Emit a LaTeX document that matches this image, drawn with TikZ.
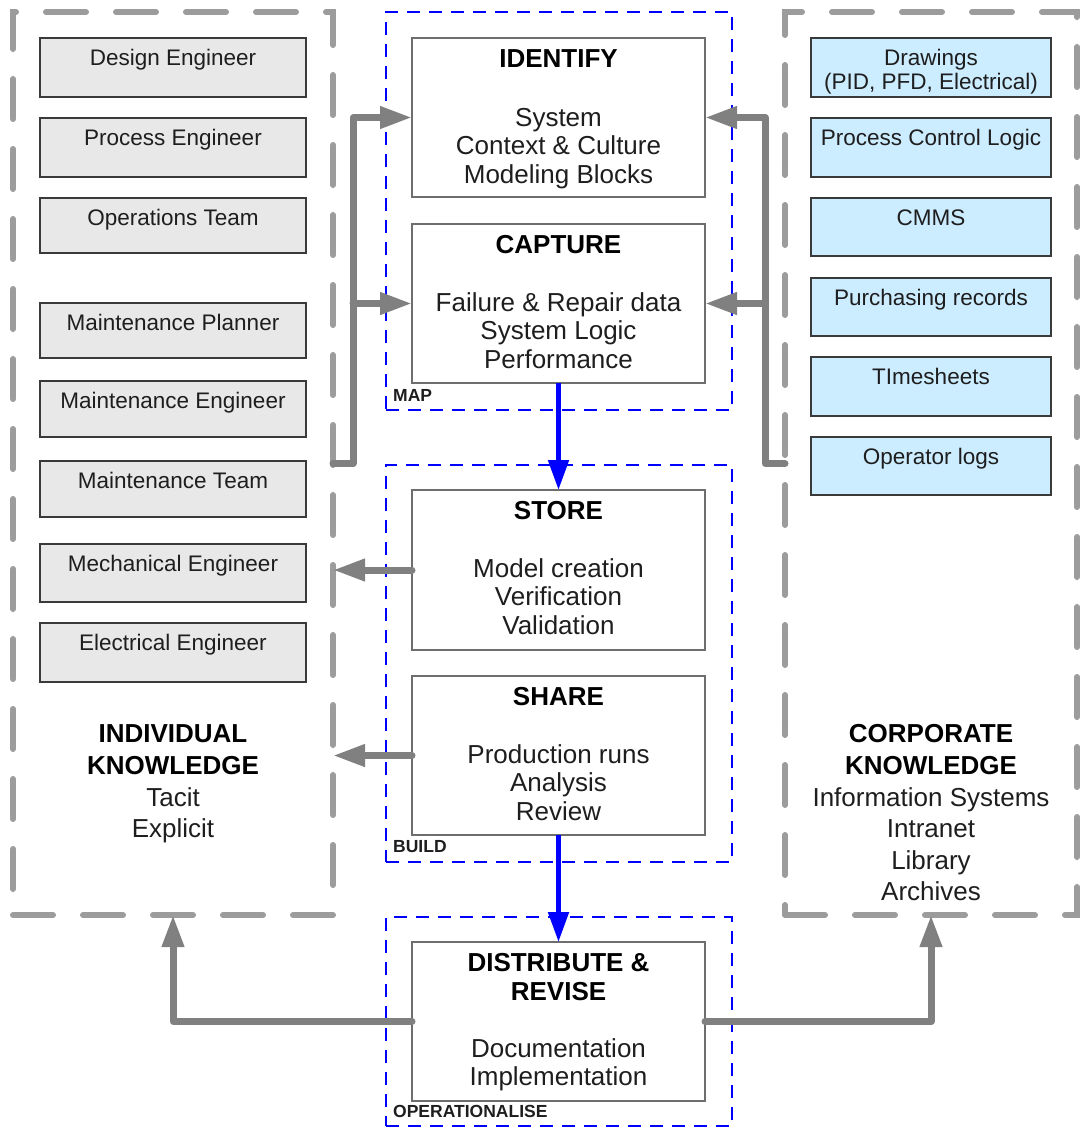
\documentclass[tikz,border=0pt]{standalone}
\usepackage{fontspec}
\setmainfont{Liberation Sans}
\usetikzlibrary{arrows.meta,calc}
\definecolor{panelgray}{HTML}{9C9C9C}
\definecolor{flowgray}{HTML}{808080}
\definecolor{peoplefill}{HTML}{E8E8E8}
\definecolor{docfill}{HTML}{CCECFF}
\definecolor{stageblue}{HTML}{0000FF}
\definecolor{boxline}{HTML}{3A3A3A}
\definecolor{stepline}{HTML}{6E6E6E}
\definecolor{ink}{HTML}{1E1E1E}
\begin{document}
\begin{tikzpicture}[x=1pt,y=-1pt,
  panel/.style={draw=panelgray, line width=6pt, line cap=round, dash pattern=on 40pt off 30pt,
    anchor=north west, inner sep=0pt, outer sep=0pt},
  stage/.style={draw=stageblue, line width=2pt, dash pattern=on 13pt off 9pt,
    anchor=north west, inner sep=0pt, outer sep=0pt},
  stepbox/.style={draw=stepline, line width=1.6pt, fill=white, minimum width=293pt,
    anchor=north west, inner sep=0pt, outer sep=0pt},
  person/.style={draw=boxline, line width=1.3pt, fill=peoplefill, minimum width=266pt,
    anchor=north west, inner sep=0pt, outer sep=0pt},
  source/.style={draw=boxline, line width=1.3pt, fill=docfill, minimum width=240pt,
    anchor=north west, inner sep=0pt, outer sep=0pt},
  lbl/.style={anchor=base, inner sep=0pt, text=ink, font=\fontsize{22.5}{27}\selectfont},
  head/.style={anchor=base, inner sep=0pt, text=black, font=\fontsize{26}{30}\selectfont\bfseries},
  body/.style={anchor=base, inner sep=0pt, text=ink, font=\fontsize{26}{30}\selectfont},
  tag/.style={anchor=base west, inner sep=0pt, text=ink, font=\fontsize{17.5}{20}\selectfont\bfseries},
  feed/.style={draw=flowgray, line width=7pt, line cap=round, line join=round,
    -{Triangle[length=32pt,width=21pt]}},
  flow/.style={draw=stageblue, line width=5pt, -{Triangle[length=30pt,width=20pt]}}
]
\useasboundingbox (0,0) rectangle (1080,1128);

% knowledge panels
\node[panel, minimum width=320pt, minimum height=903pt] (indiv) at (13,12) {};
\node[panel, minimum width=292pt, minimum height=903pt] (corp) at (785,12) {};

% stage frames
\node[stage, minimum width=346pt, minimum height=398pt] (map) at (386,12) {};
\node[stage, minimum width=346pt, minimum height=397pt] (build) at (386,465) {};
\node[stage, minimum width=346pt, minimum height=209pt] (oper) at (386,917) {};
\node[tag] (map-t) at (393,401) {MAP};
\node[tag] (build-t) at (393,852) {BUILD};
\node[tag] (oper-t) at (393,1117) {OPERATIONALISE};

% people
\foreach \yt/\hh/\txt/\nm in {38/59/Design Engineer/p1, 118/59/Process Engineer/p2,
    198/55/Operations Team/p3, 303/55/Maintenance Planner/p4, 381/56/Maintenance Engineer/p5,
    461/56/Maintenance Team/p6, 544/58/Mechanical Engineer/p7, 623/59/Electrical Engineer/p8}{
  \node[person, minimum height=\hh*1pt] (\nm) at (40,\yt) {};
  \node[lbl] (\nm-t) at (173,{\yt+27}) {\txt};
}

% information sources
\node[source, minimum height=59pt] (s1) at (811,38) {};
\node[lbl] (s1-t) at (931,65) {Drawings};
\node[lbl] (s1-u) at (931,89) {(PID, PFD, Electrical)};
\foreach \yt/\hh/\txt/\nm in {118/59/Process Control Logic/s2, 198/58/CMMS/s3,
    278/58/Purchasing records/s4, 357/59/TImesheets/s5, 437/58/Operator logs/s6}{
  \node[source, minimum height=\hh*1pt] (\nm) at (811,\yt) {};
  \node[lbl] (\nm-t) at (931,{\yt+27}) {\txt};
}

% process steps
\node[stepbox, minimum height=159pt] (identify) at (412,38) {};
\node[head] (identify-t) at (558.5,67) {IDENTIFY};
\foreach \txt [count=\i] in {System, Context \& Culture, Modeling Blocks}
  \node[body] (identify-\i) at (558.5,{126+28.7*(\i-1)}) {\txt};

\node[stepbox, minimum height=159pt] (capture) at (412,224) {};
\node[head] (capture-t) at (558.5,253) {CAPTURE};
\foreach \txt [count=\i] in {Failure \& Repair data, System Logic, Performance}
  \node[body] (capture-\i) at (558.5,{311+28.7*(\i-1)}) {\txt};

\node[stepbox, minimum height=160pt] (store) at (412,490) {};
\node[head] (store-t) at (558.5,519) {STORE};
\foreach \txt [count=\i] in {Model creation, Verification, Validation}
  \node[body] (store-\i) at (558.5,{577+28.7*(\i-1)}) {\txt};

\node[stepbox, minimum height=159pt] (share) at (412,676) {};
\node[head] (share-t) at (558.5,705) {SHARE};
\foreach \txt [count=\i] in {Production runs, Analysis, Review}
  \node[body] (share-\i) at (558.5,{763+28.7*(\i-1)}) {\txt};

\node[stepbox, minimum height=159pt] (distribute) at (412,942) {};
\node[head] (distribute-t) at (558.5,971) {DISTRIBUTE \&};
\node[head] (distribute-u) at (558.5,1000) {REVISE};
\foreach \txt [count=\i] in {Documentation, Implementation}
  \node[body] (distribute-\i) at (558.5,{1057+28.7*(\i-1)}) {\txt};

% panel captions
\node[head] (indiv-t1) at (173,742) {INDIVIDUAL};
\node[head] (indiv-t2) at (173,774) {KNOWLEDGE};
\node[body] (indiv-t3) at (173,806) {Tacit};
\node[body] (indiv-t4) at (173,837) {Explicit};
\node[head] (corp-t1) at (931,742) {CORPORATE};
\node[head] (corp-t2) at (931,774) {KNOWLEDGE};
\node[body] (corp-t3) at (931,806) {Information Systems};
\node[body] (corp-t4) at (931,837) {Intranet};
\node[body] (corp-t5) at (931,869) {Library};
\node[body] (corp-t6) at (931,900) {Archives};

% feeds into the map stage
\coordinate (ltrunk) at (353,463.5);
\coordinate (rtrunk) at (765,463.5);
\draw[feed] (indiv.east) -- (ltrunk) |- (identify.west);
\draw[feed] (ltrunk |- capture.west) -- (capture.west);
\draw[feed] (corp.west) -- (rtrunk) |- (identify.east);
\draw[feed] (rtrunk |- capture.east) -- (capture.east);

% stage flow
\draw[flow] (capture.south) -- (store.north);
\draw[flow] (share.south) -- (distribute.north);

% feedback to individual and corporate knowledge
\draw[feed] (store.west) -- (store.west -| indiv.east);
\draw[feed] (share.west) -- (share.west -| indiv.east);
\draw[feed] (distribute.west) -| (indiv.south);
\draw[feed] (distribute.east) -| (corp.south);
\end{tikzpicture}
\end{document}
